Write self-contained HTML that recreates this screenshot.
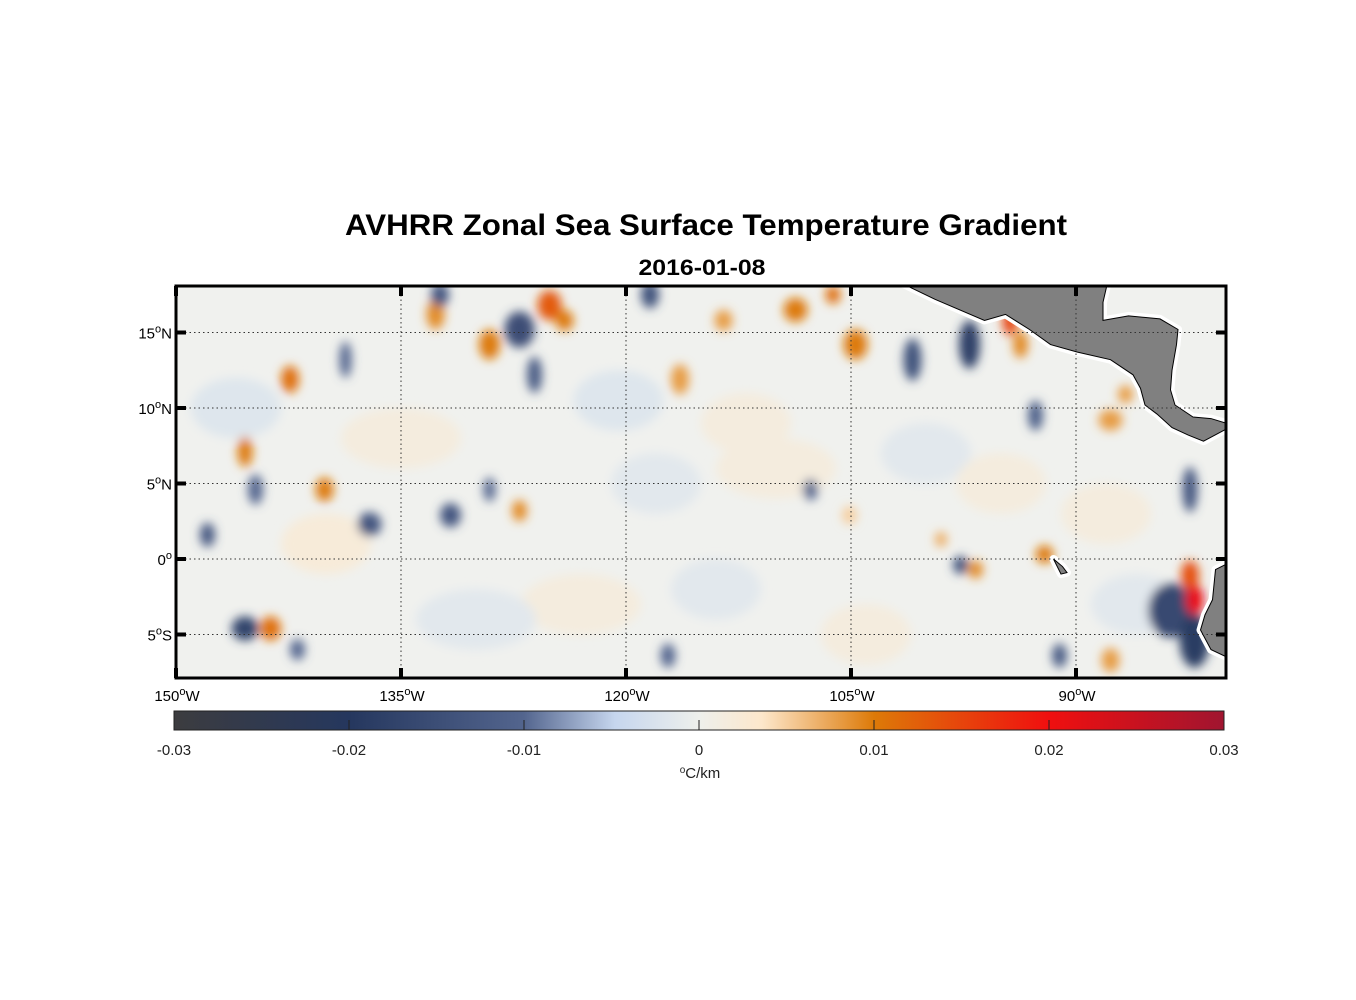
<!DOCTYPE html>
<html><head><meta charset="utf-8"><style>
body{margin:0;background:#fff;}
svg{display:block;font-family:"Liberation Sans",Arial,sans-serif;}
</style></head><body>
<svg id="chart" width="1356" height="1000" viewBox="0 0 1356 1000">
<defs>
<clipPath id="mapclip"><rect x="176" y="286" width="1050" height="392"/></clipPath>
<filter id="blur" x="-50%" y="-50%" width="200%" height="200%"><feGaussianBlur stdDeviation="5"/></filter>
<linearGradient id="cbgrad" x1="0" x2="1" y1="0" y2="0">
<stop offset="0" stop-color="#3c3c3f"/><stop offset="0.1667" stop-color="#25375e"/>
<stop offset="0.3333" stop-color="#53658e"/><stop offset="0.42" stop-color="#c6d6ee"/>
<stop offset="0.5" stop-color="#eef0ec"/><stop offset="0.56" stop-color="#fde7cb"/>
<stop offset="0.6667" stop-color="#dd7a08"/><stop offset="0.8333" stop-color="#f00f0f"/>
<stop offset="1" stop-color="#a01530"/></linearGradient>
</defs>
<text x="706" y="235" text-anchor="middle" font-size="30" font-weight="bold" textLength="722" lengthAdjust="spacingAndGlyphs">AVHRR Zonal Sea Surface Temperature Gradient</text>
<text x="702" y="275" text-anchor="middle" font-size="22" font-weight="bold" textLength="127" lengthAdjust="spacingAndGlyphs">2016-01-08</text>
<g clip-path="url(#mapclip)">
<rect x="176" y="286" width="1050" height="392" fill="#f0f1ee"/>
<g id="blobs" filter="url(#blur)"></g>
<g id="land"></g>
<g id="grid"></g>
</g>
<g id="frame"></g>
<g id="labels"></g>
<g id="colorbar"></g>
</svg>
<script>
const blobLon=[-142.4,-145.4,-140.1,-143.7,-145.4,-147.9,-137.1,-138.7,-132.7,-132.4,-127.1,-129.1,-125.1,-124.1,-126.1,-131.7,-127.1,-129.1,-118.4,-116.4,-113.5,-108.7,-106.2,-104.7,-100.9,-97.1,-94.4,-93.7,-92.7,-87.7,-86.7,-107.7,-92.1,-97.7,-96.7,-99.0,-82.4,-82.1,-83.7,-82.1,-82.4,-87.7,-91.1,-117.2,-141.9,-144.7,-105.1,-120.5,-135,-110,-100,-88,-146,-123,-114,-104,-130,-140,-118,-95,-86,-112];
const blobLat=[11.9,7.1,4.6,-4.6,-4.6,1.6,2.3,13.2,16.2,17.5,15.2,14.2,16.8,15.8,12.2,2.9,3.2,4.6,17.5,11.9,15.8,16.5,17.5,14.2,13.2,14.2,15.8,14.2,9.5,9.2,10.9,4.6,0.3,-0.4,-0.7,1.3,-1.1,-2.7,-3.4,-5.4,4.6,-6.7,-6.4,-6.4,-6.0,4.6,2.9,10.5,8,6,7,3,10,-3,-2,-5,-4,1,5,5,-3,9];
const blobVal=[0.011,0.01,0.01,0.011,-0.017,-0.013,-0.013,-0.01,0.009,-0.013,-0.015,0.01,0.013,0.01,-0.012,-0.013,0.009,-0.01,-0.014,0.008,0.008,0.01,0.011,0.01,-0.014,-0.018,0.015,0.009,-0.011,0.008,0.008,-0.01,0.01,-0.014,0.009,0.007,0.014,0.021,-0.016,-0.019,-0.013,0.008,-0.012,-0.01,-0.01,-0.01,0.005,-0.002,0.0015,0.0015,-0.0015,0.0015,-0.002,0.0015,-0.0015,0.0015,-0.0015,0.002,-0.0015,0.0015,-0.0015,0.0015];
const blobRx=[0.6,0.5,0.6,0.7,0.9,0.5,0.8,0.4,0.6,0.6,1.0,0.7,0.8,0.6,0.5,0.7,0.5,0.4,0.6,0.6,0.6,0.8,0.5,0.8,0.6,0.7,0.5,0.5,0.5,0.8,0.5,0.5,0.6,0.5,0.5,0.4,0.6,0.6,1.5,1.0,0.5,0.6,0.5,0.5,0.5,0.5,0.5,3,4,4,3,3,3,4,3,3,4,3,3,3,3,3];
const blobRy=[0.9,1.0,0.8,0.8,0.8,0.8,0.8,1.2,1.0,0.8,1.2,1.0,1.0,0.7,1.2,0.8,0.7,0.8,0.9,1.0,0.7,0.8,0.6,1.0,1.4,1.6,1.0,0.9,1.0,0.7,0.6,0.7,0.6,0.6,0.6,0.5,1.0,1.0,1.8,1.8,1.5,0.8,0.8,0.8,0.7,1.0,0.6,2,2,2,2,2,2,2,2,2,2,2,2,2,2,2];
const naLon=[-101.7,-99.4,-96.1,-94.7,-93.1,-91.7,-89.9,-87.7,-86.2,-85.7,-85.4,-84.6,-83.6,-82.5,-81.5,-80,-80,-81,-82.2,-83.4,-83.7,-83.6,-83.3,-83.2,-84.4,-86.5,-88.2,-88.2,-87.9];
const naLat=[18.3,17.2,15.8,16.2,15.2,14.2,13.7,13.2,12.2,11.3,10.2,9.6,8.7,8.2,7.8,8.6,9.0,9.3,9.4,10.2,11.2,12.5,14.2,15.2,15.9,16.1,15.8,17,18.3];
const saLon=[-79.5,-80.7,-80.9,-81.4,-81.7,-81.0,-79.5];
const saLat=[-0.1,-0.7,-2.7,-3.7,-4.7,-6.0,-6.7];
const galLon=[-91.5,-90.9,-90.6,-91.0,-91.3];
const galLat=[0.0,-0.5,-0.9,-1.0,-0.4];
const lonTicks=[-150,-135,-120,-105,-90];
const lonTickLabels=["150","135","120","105","90"];
const latTicks=[15,10,5,0,-5];
const latTickLabels=["15","10","5","0","5"];
const latTickSuffix=["N","N","N","",""];
const cbTicks=[-0.03,-0.02,-0.01,0,0.01,0.02,0.03];
const cbTickLabels=["-0.03","-0.02","-0.01","0","0.01","0.02","0.03"];

const NS="http://www.w3.org/2000/svg";
const X=lon=>176+(lon+150)*15;
const Y=lat=>559-lat*15.1;
const CB=v=>174+(v+0.03)/0.06*1050;
const stops=[[-0.03,[60,60,63]],[-0.02,[37,55,94]],[-0.01,[83,101,142]],[-0.005,[198,214,238]],[0,[238,240,236]],[0.0035,[253,231,203]],[0.01,[221,122,8]],[0.02,[240,15,15]],[0.03,[160,21,48]]];
function col(v){v=Math.max(-0.03,Math.min(0.03,v));for(let i=0;i<stops.length-1;i++){const a=stops[i],b=stops[i+1];if(v<=b[0]){const t=(v-a[0])/(b[0]-a[0]);return "rgb("+a[1].map((c,k)=>Math.round(c+(b[1][k]-c)*t)).join(",")+")";}}return "rgb(160,21,48)";}
function mk(tag,attrs,parent){const e=document.createElementNS(NS,tag);for(const k in attrs)e.setAttribute(k,attrs[k]);parent.appendChild(e);return e;}
const blobs=document.getElementById('blobs');
const order=blobVal.map((v,i)=>i).sort((a,b)=>blobRx[b]-blobRx[a]);
order.forEach(i=>{
 const e=mk('ellipse',{cx:X(blobLon[i]),cy:Y(blobLat[i]),rx:blobRx[i]*15,ry:blobRy[i]*15.1,fill:col(blobVal[i])},blobs);
 
 
});
const land=document.getElementById('land');
function poly(lons,lats,name){
 const pts=lons.map((l,i)=>X(l)+","+Y(lats[i])).join(" ");
 mk('polygon',{points:pts,fill:"none",stroke:"#fff","stroke-width":8,"stroke-linejoin":"round"},land);
 const p=mk('polygon',{points:pts,fill:"#808080",stroke:"#000","stroke-width":1},land);
 
 
}
poly(naLon,naLat,'central-america-land');
poly(saLon,saLat,'south-america-land');
poly(galLon,galLat,'galapagos-land');
const grid=document.getElementById('grid');
lonTicks.forEach(l=>{const e=mk('line',{x1:X(l),x2:X(l),y1:286,y2:678,stroke:"#333","stroke-width":1,"stroke-dasharray":"1.5,3"},grid);
 });
latTicks.forEach(l=>{const e=mk('line',{x1:176,x2:1226,y1:Y(l),y2:Y(l),stroke:"#333","stroke-width":1,"stroke-dasharray":"1.5,3"},grid);
 });
const frame=document.getElementById('frame');
const fr=mk('rect',{x:176,y:286,width:1050,height:392,fill:"none",stroke:"#000","stroke-width":3},frame);

lonTicks.forEach(l=>{mk('line',{x1:X(l),x2:X(l),y1:286,y2:296,stroke:"#000","stroke-width":4},frame);mk('line',{x1:X(l),x2:X(l),y1:668,y2:678,stroke:"#000","stroke-width":4},frame);});
latTicks.forEach(l=>{mk('line',{x1:176,x2:186,y1:Y(l),y2:Y(l),stroke:"#000","stroke-width":4},frame);mk('line',{x1:1216,x2:1226,y1:Y(l),y2:Y(l),stroke:"#000","stroke-width":4},frame);});
const labels=document.getElementById('labels');
lonTicks.forEach((l,i)=>{
 const t=mk('text',{x:X(l)+1,y:701,"text-anchor":"middle","font-size":15},labels);
 
 t.innerHTML=lonTickLabels[i]+'<tspan dy="-6" font-size="11">o</tspan><tspan dy="6">W</tspan>';
});
latTicks.forEach((l,i)=>{
 const t=mk('text',{x:172,y:Y(l)+6,"text-anchor":"end","font-size":15},labels);
 
 const suf=latTickSuffix[i]||(l<0?"S":"");
 t.innerHTML=latTickLabels[i]+'<tspan dy="-6" font-size="11">o</tspan><tspan dy="6">'+suf+'</tspan>';
});
const cb=document.getElementById('colorbar');
const r=mk('rect',{x:174,y:711,width:1050,height:19,fill:"url(#cbgrad)",stroke:"#222","stroke-width":1},cb);

cbTicks.forEach((v,i)=>{
 if(i>0&&i<cbTicks.length-1)mk('line',{x1:CB(v),x2:CB(v),y1:720,y2:730,stroke:"#222","stroke-width":1},cb);
 const t=mk('text',{x:CB(v),y:755,"text-anchor":"middle","font-size":15,fill:"#222"},cb);
 
 t.textContent=cbTickLabels[i];
});
const u=mk('text',{x:700,y:778,"text-anchor":"middle","font-size":15,fill:"#222"},cb);

u.innerHTML='<tspan dy="-5" font-size="10">o</tspan><tspan dy="5">C/km</tspan>';
</script>
</body></html>
